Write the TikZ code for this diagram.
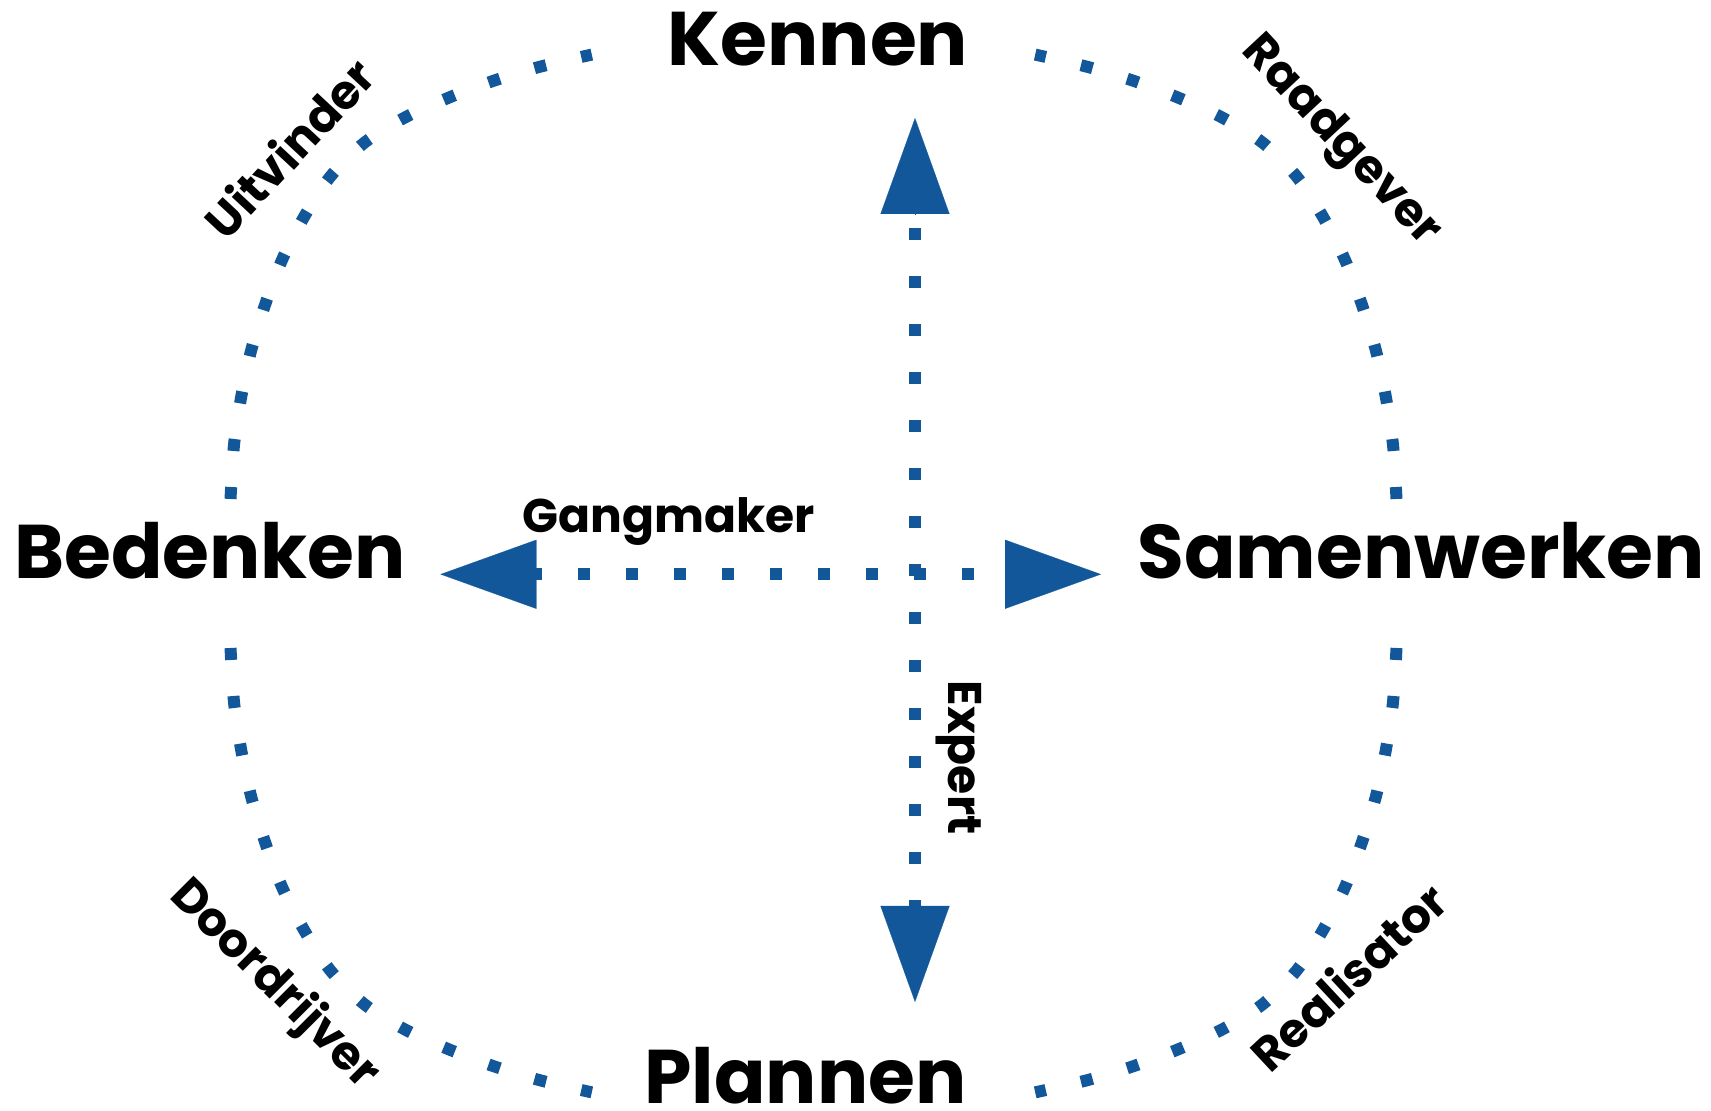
\documentclass[tikz,border=0pt]{standalone}
\usepackage{fontspec}
\setmainfont{Poppins}
\usepackage{xcolor}
\definecolor{rblue}{RGB}{19,87,155}
\usetikzlibrary{arrows.meta}
\tikzstyle{Role} = [
font=\fontsize{38}{40}\selectfont,
inner sep=0pt]
\tikzstyle{Tag} = [
font=\fontsize{23.6}{26}\selectfont,
inner sep=0pt]
\tikzstyle{DotLine} = [
rblue,
line width=6pt,
dash pattern=on 6pt off 18pt]
\tikzstyle{RingDots} = [
rblue,
line width=6pt,
dash pattern=on 6pt off 18.05pt]
\tikzstyle{Head} = [
rblue,
line width=0.1pt,
-{Triangle[length=48pt, width=34.5pt]}]

\begin{document}
\begin{tikzpicture}[x=0.5pt, y=0.5pt]
    \useasboundingbox (0,0) rectangle (1711,1111);

    \node [Role, anchor=base] (1) at (818,1045) {\textbf{Kennen}};
    \node [Role, anchor=base] (2) at (210,532) {\textbf{Bedenken}};
    \node [Role, anchor=base] (3) at (1421,532) {\textbf{Samenwerken}};
    \node [Role, anchor=base] (4) at (805.5,7.5) {\textbf{Plannen}};

    \node [Tag, anchor=base] (5) at (669,578) {\textbf{Gangmaker}};
    \node [Tag, rotate=-90] (6) at (959,353.5) {\textbf{Expert}};
    \node [Tag, rotate=47] (7) at (289,963) {\textbf{Uitvinder}};
    \node [Tag, rotate=-47] (8) at (1340,969) {\textbf{Raadgever}};
    \node [Tag, rotate=-45] (9) at (274,126) {\textbf{Doordrijver}};
    \node [Tag, rotate=43] (10) at (1348,135) {\textbf{Realisator}};

    % dotted ring, one quarter mirrored four times
    \foreach \sx/\sy in {1/1, -1/1, 1/-1, -1/-1}
        \draw[RingDots, shift={(813.5,537.5)}, xscale=\sx, yscale=\sy]
            plot[smooth] coordinates {(-583,74.5) (-579.5,128.5) (-572.5,175.5)
            (-562.5,222.5) (-548.5,268.5) (-531.5,313.5) (-509.5,356.5)
            (-483.5,396.5) (-449.5,430.5) (-409.5,455.5) (-365.5,475.5)
            (-320.5,492.5) (-274.5,506.5) (-221.7,518.9)};

    % axis ends
    \coordinate (1t) at (915,993);
    \coordinate (1f) at (915,897);
    \coordinate (4f) at (915,204);
    \coordinate (4t) at (915,109);
    \coordinate (2f) at (536,536.7);
    \coordinate (2t) at (440.4,536.7);
    \coordinate (3f) at (1005,536.7);
    \coordinate (3t) at (1101,536.7);

    \draw[DotLine, dash phase=16.75pt] (1f) -- (4f);
    \draw[DotLine, dash phase=3.15pt] (2f) -- (3f);
    \draw[Head] (1f) -- (1t);
    \draw[Head] (4f) -- (4t);
    \draw[Head] (2f) -- (2t);
    \draw[Head] (3f) -- (3t);
\end{tikzpicture}
\end{document}
